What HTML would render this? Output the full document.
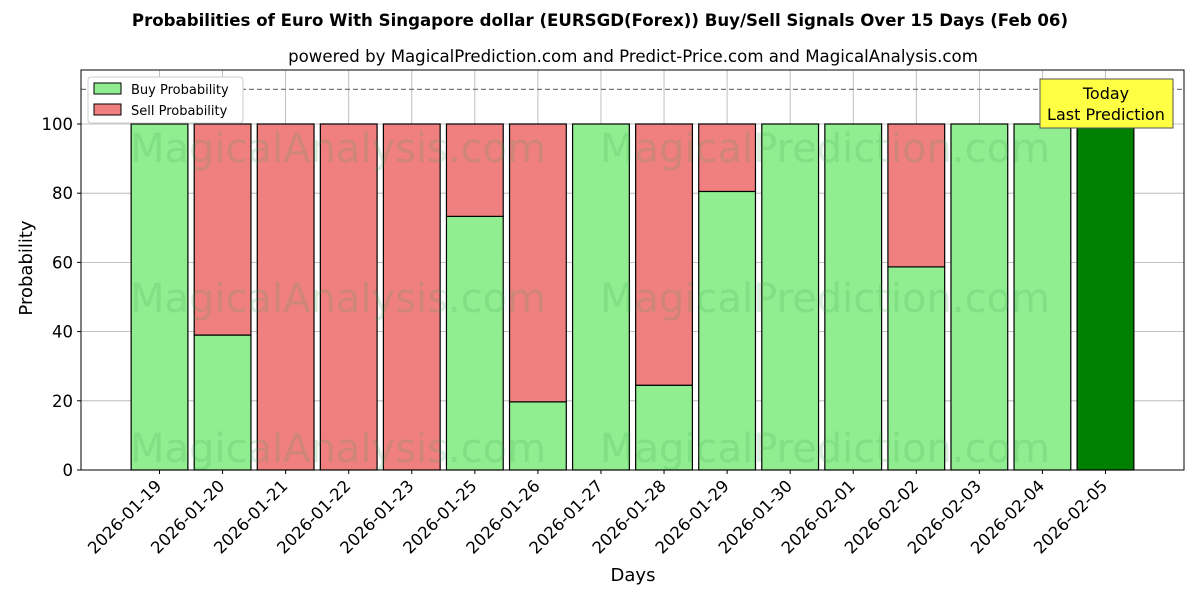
<!DOCTYPE html>
<html><head><meta charset="utf-8"><style>
body{margin:0;background:#fff;}
svg text{font-family:"DejaVu Sans","Liberation Sans",sans-serif;}
</style></head><body>
<svg id="c" width="1200" height="600" xmlns="http://www.w3.org/2000/svg">
<text x="600" y="26" text-anchor="middle" font-size="16.6" font-weight="bold">Probabilities of Euro With Singapore dollar (EURSGD(Forex)) Buy/Sell Signals Over 15 Days (Feb 06)</text>
<text x="633" y="62" text-anchor="middle" font-size="16.6">powered by MagicalPrediction.com and Predict-Price.com and MagicalAnalysis.com</text>
<g id="grid"></g>
<g id="bars"></g>
<g id="wm" fill="rgba(60,160,80,0.18)" font-size="40">
<text x="130" y="162">MagicalAnalysis.com</text><text x="600" y="162">MagicalPrediction.com</text>
<text x="130" y="312">MagicalAnalysis.com</text><text x="600" y="312">MagicalPrediction.com</text>
<text x="130" y="462">MagicalAnalysis.com</text><text x="600" y="462">MagicalPrediction.com</text>
</g>
<line x1="81" x2="1184" y1="89.4" y2="89.4" stroke="#777" stroke-dasharray="5,3" stroke-width="1.2"/>
<g id="axes"></g>
<text x="34" y="270" font-size="18" text-anchor="middle" transform="rotate(-90 32 270)">Probability</text>
<text x="633" y="581" font-size="18" text-anchor="middle">Days</text>
<g>
<rect x="88" y="77" width="155" height="46" fill="#fff" stroke="#ccc" rx="3"/>
<rect x="94" y="83" width="27" height="11" fill="#90ee90" stroke="#000"/>
<text x="131" y="94" font-size="13">Buy Probability</text>
<rect x="94" y="104" width="27" height="11" fill="#f08080" stroke="#000"/>
<text x="131" y="115" font-size="13">Sell Probability</text>
</g>
<g>
<rect x="1040" y="79" width="133" height="49" fill="#ffff44" stroke="#555"/>
<text x="1106" y="99" font-size="16" text-anchor="middle">Today</text>
<text x="1106" y="120" font-size="16" text-anchor="middle">Last Prediction</text>
</g>
</svg>
<script>
const categories=["2026-01-19","2026-01-20","2026-01-21","2026-01-22","2026-01-23","2026-01-25","2026-01-26","2026-01-27","2026-01-28","2026-01-29","2026-01-30","2026-02-01","2026-02-02","2026-02-03","2026-02-04","2026-02-05"];
const buyValues=[100,39,0,0,0,73.3,19.7,100,24.5,80.5,100,100,58.7,100,100,100];
const sellValues=[0,61,100,100,100,26.7,80.3,0,75.5,19.5,0,0,41.3,0,0,0];
const yTicks=[0,20,40,60,80,100];
const NS="http://www.w3.org/2000/svg";
const L=81,R=1184,T=70,B=470;
const xmin=-1.245,xmax=categories.length-1+1.245,ymax=115.6;
const x=i=>L+(i-xmin)/(xmax-xmin)*(R-L);
const y=v=>B-v/ymax*(B-T);
const bw=0.9*(R-L)/(xmax-xmin);
function mk(t,a,p){const e=document.createElementNS(NS,t);for(const k in a)e.setAttribute(k,a[k]);p.appendChild(e);return e;}
const g=document.getElementById('grid'),bg=document.getElementById('bars'),ax=document.getElementById('axes');
yTicks.forEach(v=>{
 const l=mk('line',{x1:L,x2:R,y1:y(v),y2:y(v),stroke:'#b0b0b0','stroke-width':0.8},g);
 
 
 mk('line',{x1:L-4,x2:L,y1:y(v),y2:y(v),stroke:'#000'},ax);
 const t=mk('text',{x:L-8,y:y(v)+6,'text-anchor':'end','font-size':16.5},ax);t.textContent=v;
 
 
});
categories.forEach((c,i)=>{
 const cx=x(i);
 const l=mk('line',{x1:cx,x2:cx,y1:T,y2:B,stroke:'#b0b0b0','stroke-width':0.8},g);
 
 
 const last=i===categories.length-1;
 if(buyValues[i]>0){const r=mk('rect',{x:cx-bw/2,y:y(buyValues[i]),width:bw,height:y(0)-y(buyValues[i]),fill:last?'#008000':'#90ee90',stroke:'#000','stroke-width':1.2},bg);
 
 }
 if(sellValues[i]>0){const r=mk('rect',{x:cx-bw/2,y:y(buyValues[i]+sellValues[i]),width:bw,height:y(buyValues[i])-y(buyValues[i]+sellValues[i]),fill:'#f08080',stroke:'#000','stroke-width':1.2},bg);
 
 }
 mk('line',{x1:cx,x2:cx,y1:B,y2:B+4,stroke:'#000'},ax);
 const tx=cx+3,ty=B+17;
 const t=mk('text',{x:tx,y:ty,'text-anchor':'end','font-size':16.5,transform:`rotate(-45 ${tx} ${ty})`},ax);t.textContent=c;
 
 
});
mk('rect',{x:L,y:T,width:R-L,height:B-T,fill:'none',stroke:'#000','stroke-width':1},ax);
</script>
</body></html>
